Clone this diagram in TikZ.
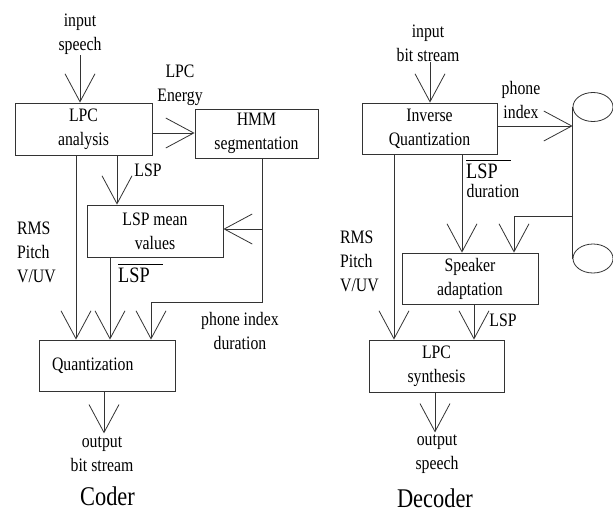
\documentclass[tikz,border=0pt]{standalone}
\usepackage{fontspec}
\setmainfont{Liberation Serif}[FakeStretch=0.83]
\usetikzlibrary{arrows.meta,shapes.geometric}
\newcommand{\fs}{\fontsize{19}{24}\selectfont}
\newcommand{\lspbar}{\makebox[0pt][l]{\rule[17.5pt]{45pt}{0.8pt}}LSP}
\begin{document}
\begin{tikzpicture}[x=1pt,y=-1pt,
  box/.style={draw=black!80, line width=0.8pt, inner sep=0pt, align=center, font=\fs},
  txt/.style={inner sep=0pt, align=center, font=\fs},
  title/.style={inner sep=0pt, font=\fontsize{27}{30}\selectfont},
  barlbl/.style={inner sep=0pt, font=\fontsize{22}{24}\selectfont},
  arr/.style={draw=black!80, line width=0.8pt, -{Straight Barb[length=28pt,width=30pt,line width=0.8pt]}},
  ln/.style={draw=black!80, line width=0.8pt},
  cyl/.style={draw=black!80, line width=0.8pt, ellipse, inner sep=0pt, minimum width=40pt, minimum height=29pt}]
\clip (0,0) rectangle (613,512);
\fill[white] (0,0) rectangle (613,512);

% ---------------- Coder ----------------
\node[box, minimum width=137pt, minimum height=52pt] (lpc) at (83.5,129) {LPC\\analysis};
\node[box, minimum width=123pt, minimum height=49pt] (hmm) at (256.5,133.5) {HMM\\segmentation};
\node[box, minimum width=136pt, minimum height=52pt] (lspm) at (155,231) {LSP mean\\values};
\node[box, minimum width=136pt, minimum height=51pt, text width=110pt, align=left] (quant) at (107,365.5) {Quantization};

\node[txt] (in1) at (80,34.5) {input\\speech};
\node[txt] (lpcen) at (180,85) {LPC\\Energy};
\node[txt] (lsp1) at (148,170) {LSP};
\node[txt, align=left, anchor=west] (rms1) at (17,252) {RMS\\Pitch\\V/UV};
\node[barlbl, anchor=base west] (lspb1) at (118,282) {\lspbar};
\node[txt] (phidx) at (240,331) {phone index\\duration};
\node[txt] (out1) at (102,454) {output\\bit stream};
\node[title] (coder) at (107.5,496) {Coder};

\draw[arr] (in1.south) -- (in1.south |- lpc.north);
\draw[arr] ([yshift=-4pt]lpc.east) coordinate (e0) -- (e0 -| hmm.west);
\draw[arr] ([xshift=33.5pt]lpc.south) coordinate (l0) -- (l0 |- lspm.north);
\coordinate (h1) at ([xshift=5.5pt]hmm.south);
\draw[arr] (h1) -- ++(0,143.5) -| ([xshift=44pt]quant.north);
\draw[arr] ([yshift=2pt]lspm.east -| h1) -- ([yshift=2pt]lspm.east);
\draw[arr] ([xshift=-7.5pt]lpc.south) coordinate (l1) -- (l1 |- quant.north);
\draw[arr] ([xshift=-45pt]lspm.south) coordinate (l2) -- (l2 |- quant.north);
\draw[arr, shorten >=3pt] ([xshift=-3pt]quant.south) coordinate (q0) -- (q0 |- out1.north);

% ---------------- Decoder ----------------
\node[box, minimum width=135pt, minimum height=51pt] (invq) at (429.5,128.5) {Inverse\\Quantization};
\node[box, minimum width=136pt, minimum height=51pt] (spk) at (470,278.5) {Speaker\\adaptation};
\node[box, minimum width=135pt, minimum height=52pt] (lpcs) at (436.5,366) {LPC\\synthesis};
\node[cyl] (e1) at (593,107) {};
\node[cyl] (e2) at (593,258.5) {};

\node[txt] (in2) at (428,43.5) {input\\bit stream};
\node[txt] (phone2) at (521,99.5) {phone\\index};
\node[barlbl, anchor=base west] (lspb2) at (466,178) {\lspbar};
\node[txt, anchor=base] (dur2) at (493,197) {duration};
\node[txt, align=left, anchor=west] (rms2) at (340,261) {RMS\\Pitch\\V/UV};
\node[txt] (lsp2) at (503,320) {LSP};
\node[txt] (out2) at (437,454) {output\\speech};
\node[title] (decoder) at (435,498) {Decoder};

\draw[ln] (e1.west) -- (e2.west);
\coordinate (c1) at (573,216);
\draw[arr] ([xshift=2pt]in2.south) coordinate (i2) -- (i2 |- invq.north);
\draw[arr] ([yshift=2.5pt]invq.east) coordinate (p0) -- (p0 -| e1.west);
\draw[arr] (c1) -| ([xshift=44pt]spk.north);
\draw[arr] ([xshift=32.5pt]invq.south) coordinate (v1) -- (v1 |- spk.north);
\draw[arr] ([xshift=-35.5pt]invq.south) coordinate (v2) -- (v2 |- lpcs.north);
\draw[arr] ([xshift=4pt]spk.south) coordinate (v3) -- (v3 |- lpcs.north);
\draw[arr, shorten >=2pt] ([xshift=-1.5pt]lpcs.south) coordinate (v4) -- (v4 |- out2.north);
\end{tikzpicture}
\end{document}
